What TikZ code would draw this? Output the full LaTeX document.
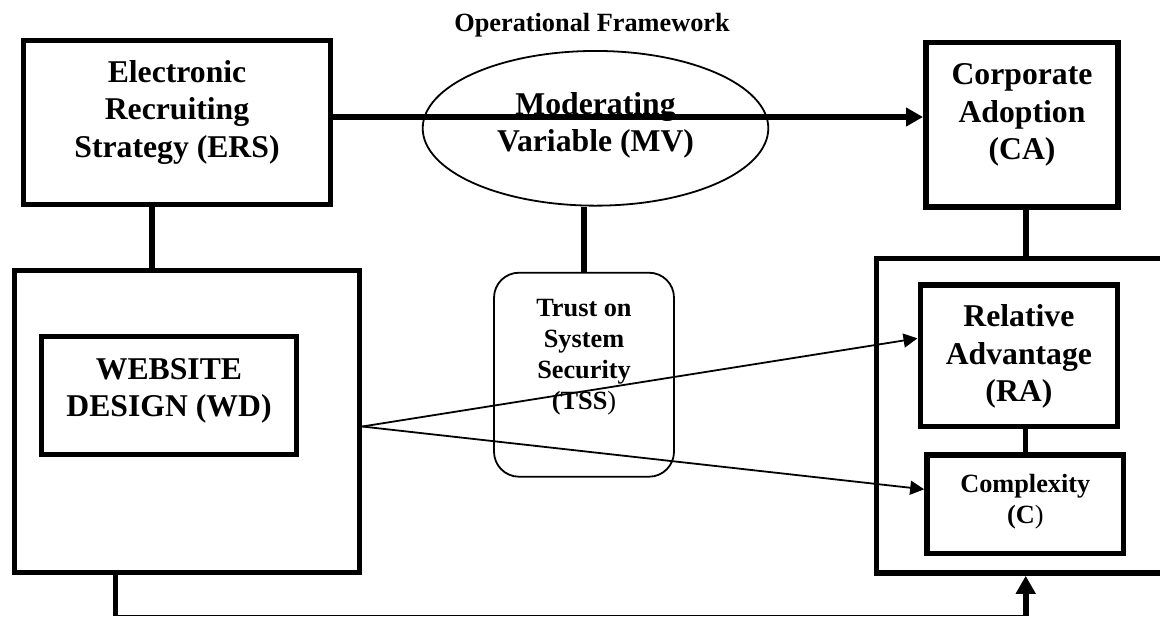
\documentclass[tikz,border=0pt]{standalone}
\usepackage{fontspec}
\setmainfont{Liberation Serif}
\usetikzlibrary{calc,shapes.geometric,arrows.meta}

\begin{document}
\begin{tikzpicture}[x=0.5pt,y=-0.5pt,
  box/.style={draw,line width=2.8pt,inner sep=0pt},
  fineline/.style={line width=0.9pt},
  boldline/.style={line width=2.8pt},
  big/.style={font=\fontsize{15.85}{18.75}\selectfont\bfseries,align=center,inner sep=0pt},
  small/.style={font=\fontsize{13.15}{15.6}\selectfont\bfseries,align=center,inner sep=0pt}]

\useasboundingbox (0,0) rectangle (1160,617);
\clip (0,0) rectangle (1160,617);

%Titolo
\node[small] (title) at (592,25) {Operational Framework};

%Blocchi
\begin{scope}
\node[box,minimum width=153.5pt,minimum height=82pt] (ers) at (177,122.5) {};
\node[big] (erstext) at ($(ers)+(0,-10.5)$) {Electronic\\Recruiting\\Strategy (ERS)};

\node[box,ellipse,line width=0.9pt,minimum width=172.8pt,minimum height=77.35pt] (mv) at (595.5,128.3) {};
\node[big] (mvtext) at ($(mv)+(0,-3)$) {Moderating\\Variable (MV)};

\node[box,minimum width=96.2pt,minimum height=82.15pt] (ca) at (1022,124.7) {};
\node[big] (catext) at ($(ca)+(0,-9.6)$) {Corporate\\Adoption\\(CA)};

\node[box,minimum width=172.5pt,minimum height=151pt] (wdo) at (187,421.5) {};
\node[box,minimum width=127.5pt,minimum height=59pt] (wd) at (169,395.5) {};
\node[big] (wdtext) at ($(wd)+(0,-4.5)$) {WEBSITE\\DESIGN (WD)};

\node[draw,fineline,rounded corners=12.5pt,minimum width=90pt,minimum height=102pt] (tss) at (584,374.7) {};
\node[small] (tsstext) at ($(tss)+(0,-17.5)$) {Trust on\\System\\Security\\(TSS{\mdseries )}};

\node[box,minimum width=149.35pt,minimum height=157.25pt] (rao) at (1025.7,415.75) {};
\node[box,minimum width=98.6pt,minimum height=70.65pt] (ra) at (1018.9,355.7) {};
\node[big] (ratext) at ($(ra)+(0,1)$) {Relative\\Advantage\\(RA)};
\node[box,minimum width=98.35pt,minimum height=49.3pt] (c) at (1025.3,504) {};
\node[small] (ctext) at ($(c)+(0,-2.5)$) {Complexity\\(C{\mdseries )}};
\end{scope}

%Collegamenti
\coordinate (ersout) at ($(ers.east)+(0,-5.5)$);
\draw[boldline,-{Triangle[length=8.5pt,width=9pt]}] (ersout) -- (ersout -| ca.west);

\coordinate (ersdown) at ($(ers.south)+(-25,0)$);
\draw[boldline] (ersdown) -- (ersdown |- wdo.north);
\draw[boldline] (tss.north) -- (tss.north |- mv.south);
\draw[boldline] (rao.north) -- (rao.north |- ca.south);
\draw[boldline] (c.north) -- (c.north |- ra.south);

\coordinate (wdout) at ($(wdo.east)+(0,5)$);
\draw[fineline,-{Triangle[length=7pt,width=7pt]}] (wdout) -- ($(ra.west)+(0,-17.4)$);
\draw[fineline,-{Triangle[length=7pt,width=7pt]}] (wdout) -- ($(c.west)+(0,-14.7)$);

\coordinate (floor) at (0,615.5);
\coordinate (wddown) at ($(wdo.south)+(-71.5,0)$);
\draw[boldline] (wddown) -- (wddown |- floor);
\draw[fineline] (wddown |- floor) -- (rao.south |- floor);
\draw[boldline,-{Triangle[length=9pt,width=9.5pt]}] (rao.south |- floor) -- (rao.south);

\end{tikzpicture}
\end{document}
